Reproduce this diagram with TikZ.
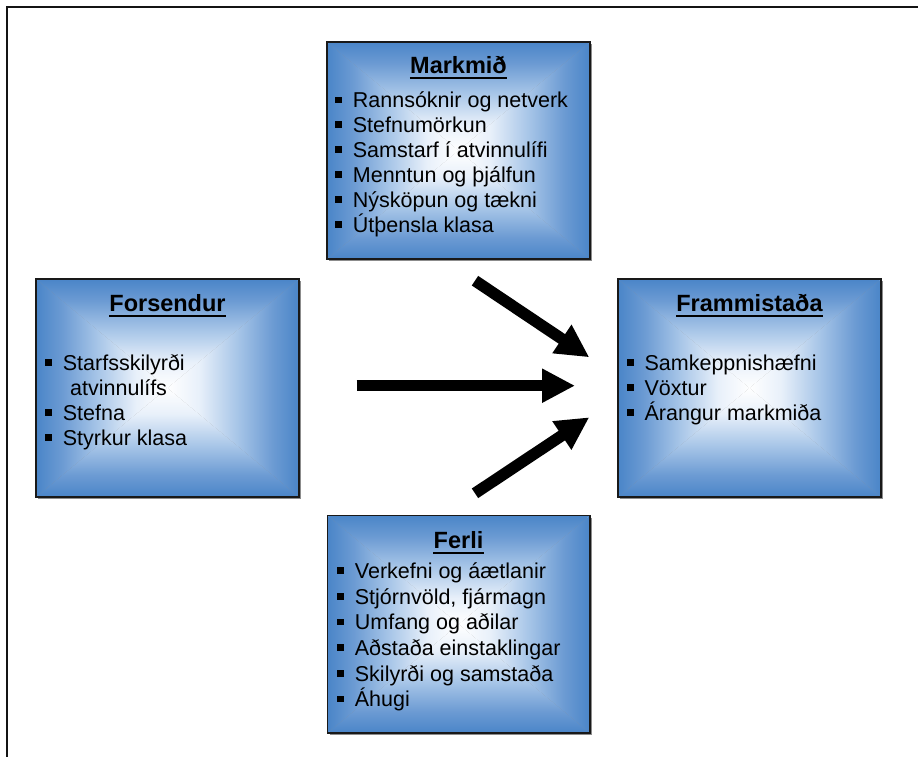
\documentclass[tikz,border=0pt]{standalone}
\usepackage{fontspec}
\setmainfont{Liberation Sans}
\usetikzlibrary{arrows.meta}
\definecolor{bxedge}{RGB}{74,133,200}
\definecolor{bxa}{RGB}{232,240,250}
\definecolor{bxb}{RGB}{165,196,231}
\definecolor{bxc}{RGB}{108,155,211}
\definecolor{frameclr}{RGB}{20,20,20}
\pgfdeclareverticalshading{edgeN}{100bp}{color(0bp)=(white); color(25bp)=(white); color(37bp)=(bxa); color(52bp)=(bxb); color(65bp)=(bxc); color(75bp)=(bxedge); color(100bp)=(bxedge)}
\pgfdeclareverticalshading{edgeS}{100bp}{color(0bp)=(bxedge); color(25bp)=(bxedge); color(35bp)=(bxc); color(48bp)=(bxb); color(63bp)=(bxa); color(75bp)=(white); color(100bp)=(white)}
\pgfdeclarehorizontalshading{edgeE}{100bp}{color(0bp)=(white); color(25bp)=(white); color(37bp)=(bxa); color(52bp)=(bxb); color(65bp)=(bxc); color(75bp)=(bxedge); color(100bp)=(bxedge)}
\pgfdeclarehorizontalshading{edgeW}{100bp}{color(0bp)=(bxedge); color(25bp)=(bxedge); color(35bp)=(bxc); color(48bp)=(bxb); color(63bp)=(bxa); color(75bp)=(white); color(100bp)=(white)}
\tikzset{
  boxframe/.style={draw=black!90, line width=1.3pt, inner sep=0pt},
  boxshadow/.style={fill=black!45},
  titletext/.style={anchor=base, inner sep=0pt, font=\fontsize{23.5pt}{27pt}\selectfont\bfseries},
  uline/.style={line width=2.2pt, black},
  itemtext/.style={anchor=base west, inner sep=0pt, font=\fontsize{21.5pt}{25pt}\selectfont},
  bigarrow/.style={line width=11.5pt, black, -{Triangle[length=33pt, width=32pt]}},
  frameline/.style={line width=2pt, frameclr}
}
\newcommand\gradbox[5]{%
  \fill[boxshadow] (#2+2,#3+2) rectangle (#4+2,#5+2);
  \coordinate (#1c) at ({(#2+#4)/2},{(#3+#5)/2});
  \shade[shading=edgeN] (#2,#3) -- (#4,#3) -- (#1c) -- cycle;
  \shade[shading=edgeS] (#2,#5) -- (#4,#5) -- (#1c) -- cycle;
  \shade[shading=edgeW] (#2,#3) -- (#2,#5) -- (#1c) -- cycle;
  \shade[shading=edgeE] (#4,#3) -- (#4,#5) -- (#1c) -- cycle;
  \node[boxframe, minimum width={(#4-#2)*1pt}, minimum height={(#5-#3)*1pt}] (#1) at (#1c) {};
}
\newcommand\boxtitle[4]{%
  \node[titletext] (#1) at (#2,#3) {#4};
  \draw[uline] ([yshift=-4.4pt]#1.base west) -- ([yshift=-4.4pt]#1.base east);
}
\newcommand\bitem[4]{\node[itemtext] (#1) at (#2,#3) {\rule[4.4pt]{6.7pt}{6.7pt}\hspace{11pt}#4};}
\begin{document}
\begin{tikzpicture}[x=1pt,y=-1pt]
\useasboundingbox (0,0) rectangle (918,757);
\fill[white] (0,0) rectangle (918,757);
\draw[frameline] (7,770) -- (7,7) -- (930,7);

% Markmid
\gradbox{mark}{327}{42}{590}{259}
\boxtitle{markt}{458.5}{73.3}{Markmið}
\bitem{m1}{335}{107.7}{Rannsóknir og netverk}
\bitem{m2}{335}{132.6}{Stefnumörkun}
\bitem{m3}{335}{157.5}{Samstarf í atvinnulífi}
\bitem{m4}{335}{182.4}{Menntun og þjálfun}
\bitem{m5}{335}{207.3}{Nýsköpun og tækni}
\bitem{m6}{335}{232.2}{Útþensla klasa}

% Forsendur
\gradbox{fors}{36}{279}{299}{497}
\boxtitle{forst}{167.5}{311.7}{Forsendur}
\bitem{f1}{45}{370}{Starfsskilyrði}
\node[itemtext] (f1b) at (70,395) {atvinnulífs};
\bitem{f2}{45}{420}{Stefna}
\bitem{f3}{45}{445}{Styrkur klasa}

% Frammistada
\gradbox{fram}{618}{279}{881}{497}
\boxtitle{framt}{749.5}{311.7}{Frammistaða}
\bitem{p1}{626.7}{370}{Samkeppnishæfni}
\bitem{p2}{626.7}{395}{Vöxtur}
\bitem{p3}{626.7}{420}{Árangur markmiða}

% Ferli
\gradbox{ferl}{327.5}{515.5}{590}{733}
\boxtitle{ferlt}{458.5}{548.3}{Ferli}
\bitem{e1}{337}{578.3}{Verkefni og áætlanir}
\bitem{e2}{337}{604}{Stjórnvöld, fjármagn}
\bitem{e3}{337}{629.7}{Umfang og aðilar}
\bitem{e4}{337}{655.4}{Aðstaða einstaklingar}
\bitem{e5}{337}{681.1}{Skilyrði og samstaða}
\bitem{e6}{337}{706.8}{Áhugi}

% arrows
\coordinate (aTs) at (475,280.7);
\coordinate (aTe) at (589.3,357.3);
\coordinate (aMs) at (356.7,385.7);
\coordinate (aMe) at (575,385.7);
\coordinate (aBs) at (475,493.3);
\coordinate (aBe) at (589.3,417.3);
\draw[bigarrow] (aTs) -- (aTe);
\draw[bigarrow] (aMs) -- (aMe);
\draw[bigarrow] (aBs) -- (aBe);
\end{tikzpicture}
\end{document}
